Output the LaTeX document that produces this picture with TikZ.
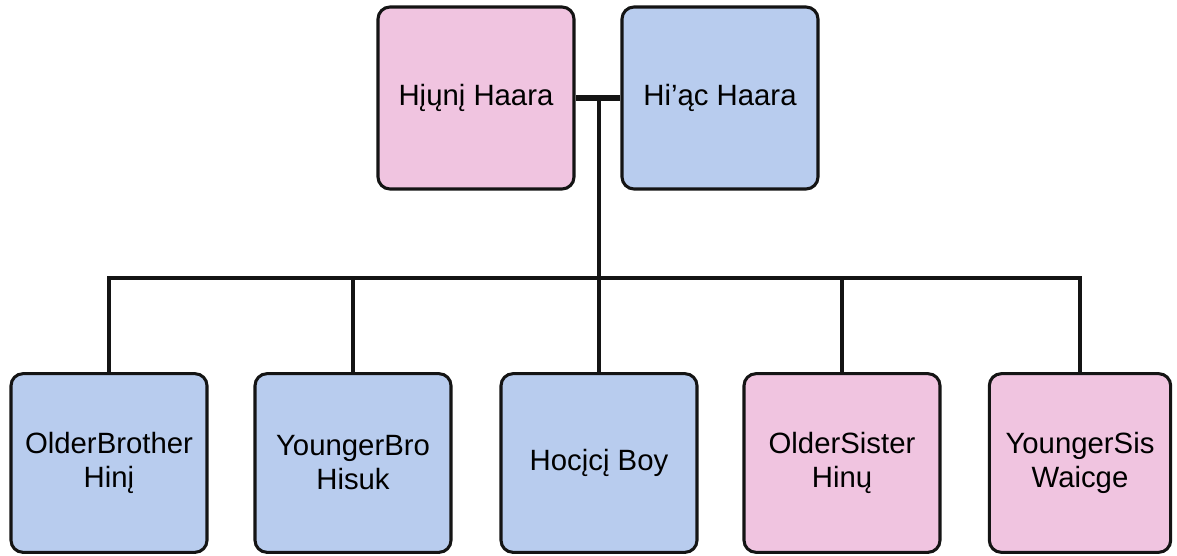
\documentclass[tikz,border=0pt]{standalone}
\usepackage{fontspec}
\setmainfont{Liberation Sans}
\definecolor{pinkfill}{RGB}{240,196,224}
\definecolor{bluefill}{RGB}{184,204,238}
\definecolor{edge}{RGB}{20,20,20}
\begin{document}
\begin{tikzpicture}[x=0.75pt,y=-0.75pt,
  person/.style={draw=edge,line width=2.3pt,rounded corners=9pt,align=center,
    font=\fontsize{22}{25.5}\selectfont,inner sep=0pt},
  topbox/.style={person,minimum width=147pt,minimum height=136.5pt},
  kidbox/.style={person,minimum width=147pt,minimum height=134pt},
  female/.style={fill=pinkfill},
  male/.style={fill=bluefill},
  link/.style={draw=edge,line width=3pt},
  marriage/.style={draw=edge,line width=5pt}]
\useasboundingbox (0,0) rectangle (1177,556);
\node[topbox,female] (mom) at (476,98) {Hįųnį Haara};
\node[topbox,male] (dad) at (720,98) {Hi’ąc Haara};
\node[kidbox,male] (c1) at (109,463) {OlderBrother\\Hinį};
\node[kidbox,male] (c2) at (353,463) {YoungerBro\\Hisuk};
\node[kidbox,male] (c3) at (599,463) {Hocįcį Boy};
\node[kidbox,female] (c4) at (842,463) {OlderSister\\Hinų};
\node[kidbox,female,minimum width=136pt] (c5) at (1080,463) {YoungerSis\\Waicge};
\coordinate (j) at (599,98);
\coordinate (bl) at (109,278);
\coordinate (br) at (1080,278);
\draw[marriage] (mom.east) -- (dad.west);
\draw[link] (j) -- (c3.north);
\draw[link,line join=miter] (c1.north) -- (bl) -- (br) -- (c5.north);
\draw[link] (c2.north) -- (c2.north |- bl);
\draw[link] (c4.north) -- (c4.north |- bl);
\end{tikzpicture}
\end{document}
